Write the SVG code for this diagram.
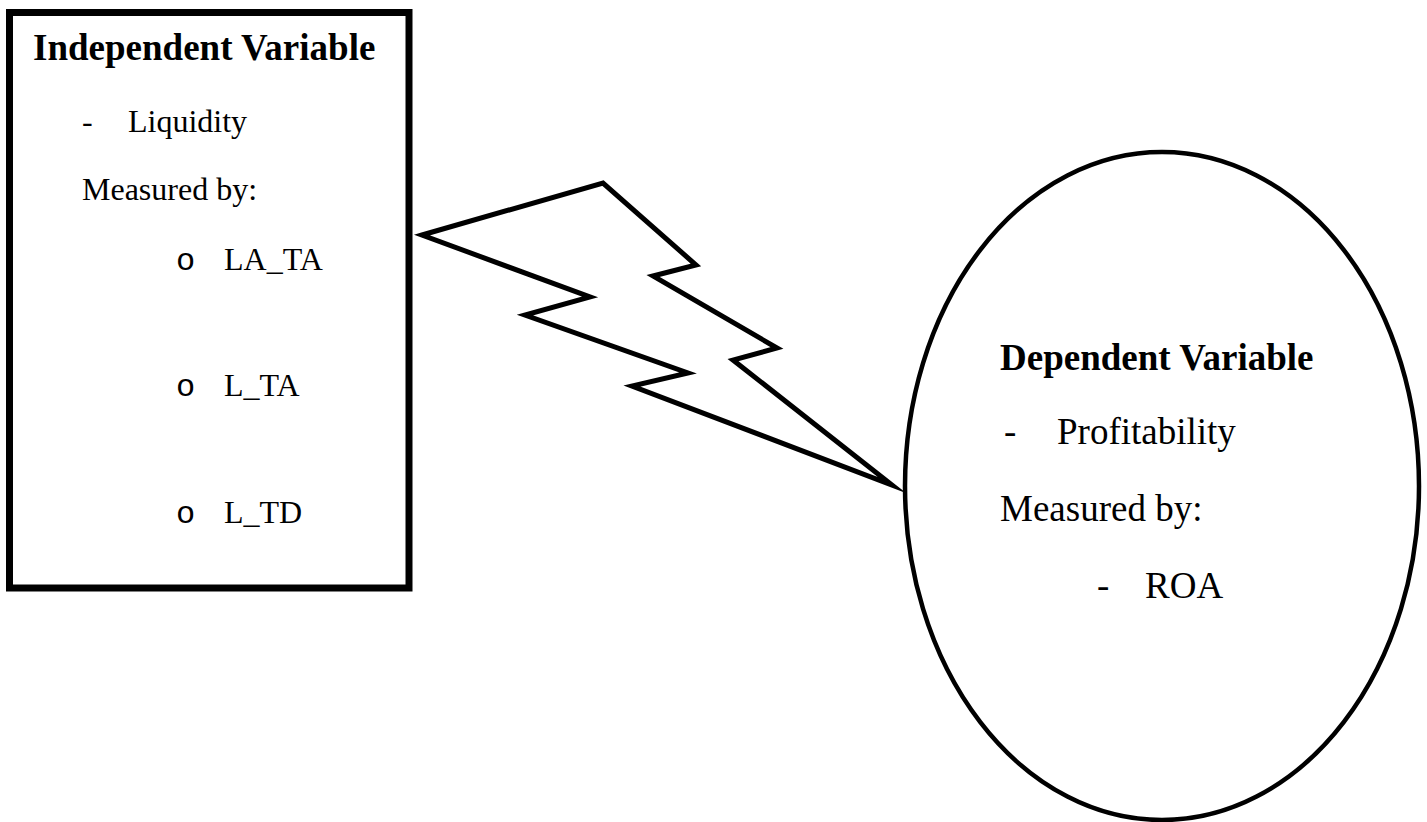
<svg xmlns="http://www.w3.org/2000/svg" width="1427" height="822" viewBox="0 0 1427 822">
<style>
.t{font-family:"Liberation Serif","Times New Roman",serif;fill:#000}
.h{font-weight:bold;font-size:37px}
.l{font-size:32px}
.r{font-size:37px}
.b{font-family:"Liberation Mono","Courier New",monospace;font-size:32px;fill:#000}
</style>
<rect width="1427" height="822" fill="#fff"/>
<g id="independent">
<rect x="9.5" y="12.5" width="399.5" height="575.5" fill="#fff" stroke="#000" stroke-width="7"/>
<text class="t h" x="33" y="60">Independent Variable</text>
<text class="t l" x="82" y="132">-</text>
<text class="t l" x="128" y="132">Liquidity</text>
<text class="t l" x="82" y="200">Measured by:</text>
<text class="b" x="176" y="270">o</text>
<text class="t l" x="224" y="270">LA_TA</text>
<text class="b" x="176" y="396">o</text>
<text class="t l" x="224" y="396">L_TA</text>
<text class="b" x="176" y="523">o</text>
<text class="t l" x="224" y="523">L_TD</text>
</g>
<g id="connectors">
<polygon points="422,235 603,183 696,265 653,276 777,348 733,360 892,485 632,386 688,373 525,315 590,297" fill="#fff" stroke="#000" stroke-width="5" stroke-linejoin="miter" stroke-miterlimit="20"/>
</g>
<g id="dependent">
<ellipse cx="1162" cy="486" rx="257" ry="334" fill="#fff" stroke="#000" stroke-width="4.5"/>
<text class="t h" x="1000" y="370">Dependent Variable</text>
<text class="t r" x="1004" y="444">-</text>
<text class="t r" x="1057" y="444">Profitability</text>
<text class="t r" x="1000" y="521">Measured by:</text>
<text class="t r" x="1097" y="598">-</text>
<text class="t r" x="1145" y="598">ROA</text>
</g>
</svg>
